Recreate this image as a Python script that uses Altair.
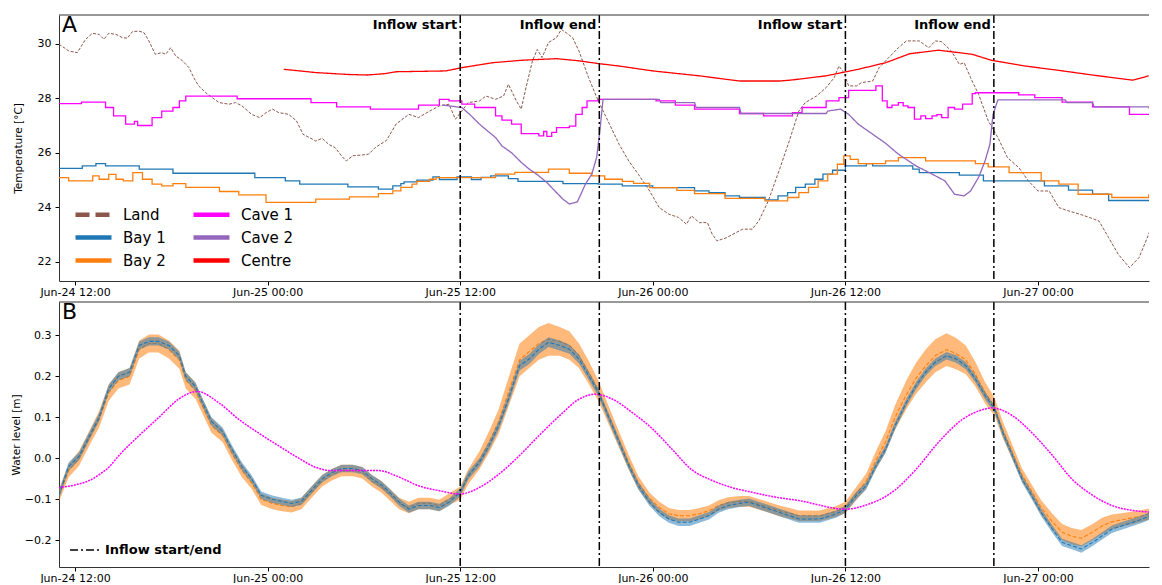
import altair as alt
import pandas as pd

# ---------------- time reference / ticks ----------------
BASE_TIME = "2021-06-24 11:00"
X_END = "2021-06-27 06:55"
TICK_TIMES = ["2021-06-24 12:00", "2021-06-25 00:00", "2021-06-25 12:00",
              "2021-06-26 00:00", "2021-06-26 12:00", "2021-06-27 00:00"]
INFLOW_TIMES = ["2021-06-25 12:00", "2021-06-25 20:40", "2021-06-26 12:00", "2021-06-26 21:15"]
INFLOW_LABELS = ["Inflow start", "Inflow end", "Inflow start", "Inflow end"]
INFLOW_KIND = "Inflow start/end"

TEMP_TICKS = [22, 24, 26, 28, 30]
LEVEL_TICKS = [-0.2, -0.1, 0.0, 0.1, 0.2, 0.3]

SERIES_ORDER = ["Land", "Bay 1", "Bay 2", "Cave 1", "Cave 2", "Centre"]
SERIES_COLORS = ["#8c564b", "#1f77b4", "#ff7f0e", "#ff00ff", "#9467bd", "#ff0000"]

# ---------------- Panel A: temperature (hours since BASE_TIME) ----------------
land_hours = [0, 0.62, 1.14, 1.66, 2.08, 2.5, 2.8, 3.1, 3.55, 3.95,
              4.26, 4.57, 4.98, 5.3, 5.6, 6.0, 6.4, 6.65, 6.96, 7.27,
              7.7, 8.1, 8.4, 8.7, 9.15, 9.55, 9.97, 10.6, 11.0, 11.4,
              12.0, 12.5, 12.9, 13.3, 13.7, 14.3, 14.8, 15.2, 15.6, 16.0,
              16.4, 16.8, 17.2, 17.6, 17.9, 18.3, 18.9, 19.3, 19.7, 20.4,
              21.0, 21.8, 22.4, 23.1, 23.7, 24.3, 24.7, 25.1, 25.5, 26.2,
              26.6, 27.2, 27.7, 28.0, 28.5, 28.8, 29.1, 29.5, 29.8, 30.1,
              30.5, 31.0, 31.3, 31.6, 32.0, 32.4, 33.0, 33.6, 34.3, 34.9,
              35.5, 36.1, 36.8, 37.4, 38.0, 38.6, 39.1, 39.4, 39.9, 40.4,
              40.7, 41.0, 41.6, 42.2, 42.6, 43.2, 43.6, 44.2, 44.9, 45.5,
              46.1, 46.5, 47.2, 47.8, 48.3, 48.6, 48.9, 49.2, 49.7, 50.0,
              50.7, 51.1, 51.7, 52.3, 52.8, 53.6, 54.2, 54.6, 55.0, 55.6,
              56.1, 56.4, 56.8, 57.3, 57.9, 58.5, 59.1, 59.8, 60.4, 61.0,
              61.7, 62.3, 62.9, 63.6, 64.2, 64.8, 65.4, 66.0, 66.7, 67.3,
              67.9, 68.5, 69.0]
land_temp = [29.98, 29.73, 29.67, 30.16, 30.38, 30.34, 30.16, 30.38, 30.34, 30.22,
             30.2, 30.44, 30.46, 30.4, 30.1, 29.61, 29.67, 29.61, 29.85, 29.55,
             29.37, 29.12, 28.75, 28.45, 28.2, 28.02, 27.84, 27.78, 27.84, 27.72,
             27.41, 27.29, 27.47, 27.6, 27.47, 27.41, 27.17, 26.68, 26.56, 26.43,
             26.53, 26.31, 26.19, 25.89, 25.7, 25.89, 25.92, 25.95, 26.19, 26.45,
             27.05, 27.41, 27.29, 27.53, 27.72, 27.78, 27.23, 27.53, 27.84, 27.9,
             28.08, 27.96, 28.08, 28.51, 27.9, 27.6, 28.39, 29.37, 29.79, 29.49,
             30.04, 30.22, 30.52, 30.4, 30.22, 29.73, 28.75, 27.9, 27.05, 26.31,
             25.7, 25.21, 24.6, 23.99, 23.75, 23.63, 23.38, 23.69, 23.44, 23.44,
             23.02, 22.77, 22.89, 23.08, 23.2, 23.2, 23.5, 24.24, 25.4, 26.43,
             27.53, 27.84, 28.08, 28.39, 28.75, 29.18, 28.94, 28.45, 28.45, 28.57,
             28.63, 29.12, 29.49, 29.85, 30.1, 30.1, 29.85, 30.1, 30.07, 29.73,
             29.24, 29.3, 28.75, 28.14, 27.17, 26.56, 25.82, 25.46, 24.97, 24.6,
             24.6, 23.99, 23.87, 23.75, 23.63, 23.5, 22.89, 22.28, 21.79, 22.16,
             23.02, 24.11, 24.9]

bay1_hours = [0, 1.45, 2.3, 2.9, 5.0, 7.1, 12.2, 14.1, 15.0, 18.0,
              19.9, 20.8, 21.3, 21.5, 22.3, 23.3, 23.7, 24.8, 25.7, 26.3,
              26.9, 28.0, 28.6, 31.4, 33.6, 35.1, 37.0, 39.6, 40.5, 41.5,
              42.4, 44.0, 44.8, 45.4, 45.9, 46.5, 47.1, 47.6, 48.2, 49.0,
              50.3, 50.7, 53.2, 53.6, 56.1, 57.6, 61.4, 62.9, 64.4, 65.4,
              68.0, 69.5]
bay1_temp = [25.43, 25.52, 25.6, 25.52, 25.4, 25.25, 25.09, 24.97, 24.85, 24.75,
             24.67, 24.79, 24.87, 24.93, 25.0, 25.12, 25.02, 25.12, 25.02, 25.1,
             25.15, 25.05, 24.95, 24.87, 24.85, 24.79, 24.72, 24.6, 24.54, 24.42,
             24.36, 24.27, 24.42, 24.54, 24.73, 24.85, 25.03, 25.22, 25.36, 25.52,
             25.6, 25.52, 25.4, 25.27, 25.18, 24.97, 24.79, 24.63, 24.48, 24.25,
             24.36, 24.36]

bay2_hours = [0, 0.6, 2.1, 2.5, 3.1, 3.55, 4.0, 4.6, 5.2, 5.8,
              6.4, 7.1, 7.9, 10.0, 11.2, 12.9, 16.0, 18.1, 19.9, 20.8,
              21.3, 22.0, 22.3, 23.1, 23.5, 27.2, 28.4, 30.5, 31.8, 33.2,
              34.0, 35.1, 35.8, 36.8, 38.5, 39.6, 41.5, 44.0, 45.4, 46.1,
              46.7, 47.3, 47.9, 48.5, 48.9, 49.3, 49.8, 51.5, 52.3, 54.0,
              57.1, 57.9, 59.2, 61.2, 62.3, 63.5, 65.6, 67.9, 69.5]
bay2_temp = [25.09, 24.97, 25.15, 25.03, 25.21, 25.03, 24.97, 25.27, 25.03, 24.85,
             24.79, 24.87, 24.73, 24.58, 24.46, 24.18, 24.3, 24.38, 24.5, 24.6,
             24.73, 24.85, 24.95, 25.03, 25.09, 25.22, 25.28, 25.4, 25.25, 25.15,
             25.03, 24.95, 24.88, 24.72, 24.62, 24.5, 24.33, 24.24, 24.36, 24.54,
             24.73, 24.97, 25.22, 25.58, 25.89, 25.76, 25.6, 25.7, 25.82, 25.7,
             25.6, 25.48, 25.27, 24.97, 24.85, 24.48, 24.36, 24.46, 24.46]

cave1_hours = [0, 1.4, 2.9, 3.4, 4.15, 4.7, 4.9, 5.8, 6.4, 7.1,
               7.5, 7.9, 11.1, 15.7, 17.3, 19.4, 22.4, 23.7, 24.3, 25.1,
               25.9, 27.2, 27.6, 28.2, 28.8, 29.9, 30.2, 30.4, 30.7, 31.0,
               31.8, 32.2, 32.6, 32.9, 33.6, 37.2, 38.4, 39.6, 42.4, 43.9,
               45.7, 46.3, 47.8, 48.6, 49.2, 50.9, 51.3, 51.6, 51.9, 52.3,
               52.6, 52.9, 53.3, 53.7, 54.0, 54.4, 54.7, 55.0, 55.4, 55.8,
               56.3, 56.9, 57.1, 59.8, 60.8, 62.5, 64.4, 66.7, 69.5]
cave1_temp = [27.8, 27.86, 27.66, 27.35, 27.05, 27.15, 27.0, 27.29, 27.53, 27.66,
              27.9, 28.08, 27.98, 27.84, 27.68, 27.6, 27.75, 27.96, 27.9, 27.78,
              27.66, 27.35, 27.2, 27.05, 26.7, 26.62, 26.78, 26.6, 26.75, 26.92,
              26.98, 27.41, 27.66, 27.9, 27.96, 27.9, 27.75, 27.6, 27.44, 27.35,
              27.47, 27.66, 27.9, 28.02, 28.29, 28.45, 27.9, 27.66, 27.75, 27.84,
              27.72, 27.66, 27.23, 27.35, 27.25, 27.35, 27.4, 27.29, 27.66, 27.6,
              27.78, 28.17, 28.2, 28.12, 28.02, 27.86, 27.68, 27.41, 27.41]

cave2_hours = [23.9, 25.1, 25.6, 26.2, 26.7, 27.2, 27.6, 28.2, 28.8, 29.3,
               29.8, 30.4, 30.9, 31.4, 31.8, 32.3, 32.8, 33.2, 33.5, 33.7,
               33.9, 37.4, 37.5, 39.6, 39.7, 42.4, 42.5, 47.8, 47.9, 48.7,
               49.2, 49.8, 50.7, 51.5, 52.3, 53.4, 54.4, 55.2, 55.8, 56.4,
               56.8, 57.3, 57.7, 58.0, 58.2, 58.5, 62.7, 62.8, 64.4, 64.5,
               67.9, 68.0, 69.5]
cave2_temp = [27.75, 27.66, 27.4, 27.05, 26.8, 26.56, 26.25, 26.0, 25.65, 25.4,
              25.2, 24.91, 24.6, 24.3, 24.12, 24.2, 24.85, 25.22, 25.83, 26.8,
              27.96, 27.96, 27.84, 27.84, 27.66, 27.66, 27.44, 27.44, 27.53, 27.6,
              27.41, 27.05, 26.68, 26.35, 25.95, 25.52, 25.22, 24.97, 24.48, 24.42,
              24.6, 25.1, 25.7, 26.3, 27.41, 27.94, 27.94, 27.84, 27.84, 27.68,
              27.68, 27.53, 27.53]

centre_hours = [14.0, 16.0, 18.0, 19.2, 20.3, 21.0, 24.1, 25.1, 27.0, 28.8,
                31.0, 32.4, 33.6, 34.9, 37.0, 39.9, 42.4, 44.9, 45.7, 47.8,
                49.8, 51.5, 53.0, 54.8, 56.9, 58.1, 60.2, 62.3, 64.4, 66.9,
                67.9]
centre_temp = [29.06, 28.94, 28.87, 28.85, 28.9, 28.97, 29.0, 29.12, 29.3, 29.39,
               29.45, 29.37, 29.27, 29.18, 29.0, 28.82, 28.63, 28.63, 28.67, 28.82,
               29.06, 29.3, 29.63, 29.76, 29.61, 29.39, 29.18, 29.02, 28.85, 28.66,
               28.82]

# ---------------- Panel B: water level ----------------
wl_hours = [0, 0.6, 1.25, 1.9, 2.5, 3.1, 3.7, 4.4, 5.0, 5.6,
            6.2, 6.85, 7.5, 7.9, 8.5, 8.9, 9.5, 10.2, 10.8, 11.4,
            12.0, 12.6, 13.3, 13.9, 14.5, 15.1, 15.8, 16.4, 17.0, 17.6,
            18.3, 18.9, 19.5, 20.1, 20.6, 21.2, 21.8, 22.4, 23.1, 23.7,
            24.3, 25.0, 25.5, 26.2, 26.8, 27.4, 28.0, 28.7, 29.3, 29.9,
            30.5, 31.2, 31.8, 32.4, 33.0, 33.6, 34.3, 34.9, 35.5, 36.1,
            36.8, 37.4, 38.0, 38.6, 39.3, 39.9, 40.5, 41.1, 41.7, 42.4,
            43.0, 43.6, 44.9, 46.1, 47.4, 48.4, 49.0, 49.7, 50.3, 50.9,
            51.5, 52.1, 52.8, 53.4, 54.0, 54.6, 55.3, 55.9, 56.5, 57.1,
            57.7, 58.3, 58.8, 59.4, 60.0, 60.6, 61.2, 61.9, 62.5, 63.1,
            63.7, 64.4, 65.0, 65.6, 66.2, 66.9, 67.5, 68.5, 69.2]
bay1_wl = [-0.09, -0.02, 0.005, 0.055, 0.1, 0.17, 0.2, 0.21, 0.275, 0.285,
           0.285, 0.275, 0.25, 0.2, 0.175, 0.14, 0.09, 0.065, 0.02, -0.02,
           -0.05, -0.09, -0.1, -0.105, -0.11, -0.105, -0.075, -0.05, -0.035, -0.025,
           -0.025, -0.03, -0.05, -0.065, -0.083, -0.107, -0.124, -0.115, -0.115, -0.12,
           -0.107, -0.083, -0.042, -0.01, 0.031, 0.08, 0.144, 0.226, 0.242, 0.266,
           0.283, 0.275, 0.266, 0.242, 0.202, 0.161, 0.095, 0.039, -0.018, -0.067,
           -0.107, -0.132, -0.148, -0.156, -0.156, -0.148, -0.14, -0.124, -0.115, -0.11,
           -0.107, -0.115, -0.132, -0.148, -0.148, -0.136, -0.124, -0.09, -0.067, -0.018,
           0.022, 0.08, 0.136, 0.177, 0.21, 0.234, 0.25, 0.242, 0.226, 0.194,
           0.153, 0.12, 0.063, 0.007, -0.05, -0.09, -0.132, -0.173, -0.205, -0.213,
           -0.221, -0.205, -0.189, -0.173, -0.165, -0.156, -0.148, -0.132, -0.125]
bay1_spread = [0.01, 0.01, 0.01, 0.01, 0.01, 0.01, 0.01, 0.01, 0.01, 0.01,
               0.01, 0.01, 0.01, 0.01, 0.01, 0.01, 0.01, 0.01, 0.01, 0.01,
               0.009, 0.009, 0.009, 0.009, 0.009, 0.009, 0.009, 0.009, 0.009, 0.009,
               0.009, 0.009, 0.009, 0.009, 0.009, 0.009, 0.009, 0.009, 0.009, 0.009,
               0.009, 0.01, 0.01, 0.01, 0.01, 0.011, 0.012, 0.012, 0.012, 0.012,
               0.012, 0.012, 0.011, 0.011, 0.01, 0.01, 0.01, 0.01, 0.009, 0.009,
               0.009, 0.009, 0.009, 0.009, 0.009, 0.009, 0.009, 0.009, 0.009, 0.009,
               0.009, 0.009, 0.009, 0.009, 0.009, 0.009, 0.009, 0.009, 0.009, 0.009,
               0.009, 0.009, 0.009, 0.009, 0.009, 0.009, 0.009, 0.009, 0.009, 0.009,
               0.009, 0.009, 0.009, 0.009, 0.009, 0.009, 0.009, 0.009, 0.009, 0.009,
               0.009, 0.009, 0.009, 0.009, 0.009, 0.009, 0.009, 0.009, 0.009]
bay2_wl = [-0.09, -0.03, 0.0, 0.05, 0.095, 0.16, 0.19, 0.2, 0.265, 0.28,
           0.28, 0.265, 0.24, 0.19, 0.165, 0.13, 0.08, 0.055, 0.01, -0.03,
           -0.06, -0.1, -0.11, -0.115, -0.118, -0.11, -0.08, -0.055, -0.04, -0.03,
           -0.03, -0.035, -0.055, -0.07, -0.088, -0.11, -0.12, -0.11, -0.11, -0.115,
           -0.1, -0.085, -0.045, -0.005, 0.04, 0.09, 0.16, 0.24, 0.26, 0.28,
           0.29, 0.285, 0.275, 0.25, 0.21, 0.165, 0.1, 0.045, -0.01, -0.06,
           -0.098, -0.12, -0.135, -0.14, -0.14, -0.135, -0.128, -0.115, -0.108, -0.105,
           -0.105, -0.112, -0.128, -0.14, -0.14, -0.13, -0.12, -0.085, -0.055, -0.005,
           0.04, 0.1, 0.155, 0.195, 0.225, 0.25, 0.265, 0.255, 0.24, 0.205,
           0.16, 0.125, 0.07, 0.015, -0.04, -0.08, -0.12, -0.155, -0.18, -0.19,
           -0.195, -0.18, -0.165, -0.155, -0.15, -0.145, -0.14, -0.13, -0.125]
bay2_spread = [0.016, 0.016, 0.018, 0.018, 0.02, 0.02, 0.02, 0.02, 0.022, 0.022,
               0.022, 0.022, 0.022, 0.02, 0.02, 0.018, 0.018, 0.016, 0.016, 0.016,
               0.014, 0.014, 0.014, 0.014, 0.014, 0.014, 0.014, 0.014, 0.014, 0.014,
               0.014, 0.014, 0.014, 0.014, 0.014, 0.014, 0.014, 0.014, 0.014, 0.014,
               0.014, 0.016, 0.018, 0.022, 0.026, 0.03, 0.035, 0.04, 0.04, 0.04,
               0.04, 0.035, 0.035, 0.03, 0.028, 0.025, 0.022, 0.02, 0.018, 0.016,
               0.014, 0.014, 0.014, 0.014, 0.014, 0.014, 0.013, 0.013, 0.013, 0.013,
               0.013, 0.013, 0.013, 0.013, 0.013, 0.013, 0.014, 0.016, 0.018, 0.022,
               0.026, 0.03, 0.035, 0.038, 0.04, 0.04, 0.04, 0.038, 0.035, 0.03,
               0.026, 0.022, 0.02, 0.018, 0.016, 0.016, 0.018, 0.02, 0.02, 0.02,
               0.02, 0.02, 0.02, 0.018, 0.016, 0.015, 0.014, 0.013, 0.013]

cave1_wl_hours = [0, 1.0, 1.9, 2.5, 3.1, 3.74, 4.98, 6.23, 7.48, 8.6,
                  9.97, 11.2, 12.5, 13.7, 14.95, 16.0, 17.0, 18.9, 19.9, 21.2,
                  22.4, 23.7, 25.0, 26.2, 27.4, 28.7, 29.9, 31.2, 32.4, 33.4,
                  34.5, 35.7, 37.0, 38.2, 39.4, 40.7, 41.9, 43.2, 44.7, 46.1,
                  49.0, 50.5, 51.9, 53.4, 54.8, 56.3, 57.7, 58.1, 59.4, 60.6,
                  61.9, 63.1, 64.4, 65.6, 66.9, 68.5, 69.2]
cave1_wl = [-0.071, -0.065, -0.054, -0.04, -0.022, 0.007, 0.055, 0.1, 0.145, 0.163,
            0.135, 0.095, 0.06, 0.03, 0.0, -0.022, -0.03, -0.03, -0.03, -0.046,
            -0.067, -0.079, -0.087, -0.071, -0.039, 0.007, 0.055, 0.104, 0.144, 0.156,
            0.144, 0.112, 0.071, 0.022, -0.027, -0.054, -0.071, -0.083, -0.095, -0.103,
            -0.124, -0.111, -0.083, -0.027, 0.039, 0.095, 0.12, 0.123, 0.104, 0.063,
            0.007, -0.05, -0.09, -0.115, -0.127, -0.132, -0.133]


# ---------------- helpers ----------------
def to_time(hours):
    s = pd.Series(hours, dtype="float64")
    return (pd.Timestamp(BASE_TIME) + pd.to_timedelta(s, unit="h")).dt.round("s")


def frame(name, hours, values):
    return pd.DataFrame({"time": to_time(hours), "value": values, "series": name})


def dt(s):
    t = pd.Timestamp(s)
    return alt.DateTime(year=t.year, month=t.month, date=t.day, hours=t.hour, minutes=t.minute)


land_df = frame("Land", land_hours, land_temp)
step_df = pd.concat([frame("Bay 1", bay1_hours, bay1_temp),
                     frame("Bay 2", bay2_hours, bay2_temp),
                     frame("Cave 1", cave1_hours, cave1_temp)], ignore_index=True)
lin_df = pd.concat([frame("Cave 2", cave2_hours, cave2_temp),
                    frame("Centre", centre_hours, centre_temp)], ignore_index=True)

inflow_df = pd.DataFrame({"time": pd.to_datetime(INFLOW_TIMES), "label": INFLOW_LABELS,
                          "kind": INFLOW_KIND})

wl_df = pd.DataFrame({"time": to_time(wl_hours), "bay1": bay1_wl, "bay2": bay2_wl,
                      "s1": bay1_spread, "s2": bay2_spread})
wl_df["bay1_lo"] = wl_df["bay1"] - wl_df["s1"]
wl_df["bay1_hi"] = wl_df["bay1"] + wl_df["s1"]
wl_df["bay2_lo"] = wl_df["bay2"] - wl_df["s2"]
wl_df["bay2_hi"] = wl_df["bay2"] + wl_df["s2"]
cave_wl_df = pd.DataFrame({"time": to_time(cave1_wl_hours), "value": cave1_wl})
frame_df = pd.DataFrame({"edge": ["top"]})

# ---------------- scales / axes ----------------
W = 1090
H_A = 266
H_B = 265
FONT = "DejaVu Sans"
FRAME = "#333333"

x_scale = alt.Scale(domain=[dt(BASE_TIME), dt(X_END)], nice=False)
x_axis = alt.Axis(values=[dt(s) for s in TICK_TIMES], format="%b-%d %H:%M", title=None,
                  labelAngle=0, labelPadding=1, tickSize=4, labelFlush=False)
X = alt.X("time:T", scale=x_scale, axis=x_axis)

y_scale_a = alt.Scale(domain=[21.3, 31.05], nice=False, zero=False)
y_axis_a = alt.Axis(values=TEMP_TICKS, title="Temperature [°C]", titlePadding=14, labelPadding=4)
y_scale_b = alt.Scale(domain=[-0.265, 0.381], nice=False, zero=False)
y_axis_b = alt.Axis(values=LEVEL_TICKS, format=".1f", title="Water level [m]",
                    titlePadding=3, labelPadding=4)

color_scale = alt.Scale(domain=SERIES_ORDER, range=SERIES_COLORS)
dash_scale = alt.Scale(domain=SERIES_ORDER, range=[[14, 6], [1, 0], [1, 0], [1, 0], [1, 0], [1, 0]])
# wide custom stroke symbol: 36 px long, laid out as an 18 px symbol
legend_a = alt.Legend(title=None, orient="none", legendX=23, legendY=188, columns=2,
                      symbolType="M-2,0H2", symbolSize=324, symbolStrokeWidth=4.5,
                      labelFontSize=15, labelOffset=18, columnPadding=18, rowPadding=2,
                      labelColor="black", labelFont=FONT, padding=0)
COLOR = alt.Color("series:N", scale=color_scale, legend=legend_a)
DASH = alt.StrokeDash("series:N", scale=dash_scale, legend=legend_a)


def top_border(width):
    return alt.Chart(frame_df).mark_rule(color=FRAME, strokeWidth=1).encode(
        x=alt.value(0), x2=alt.value(width), y=alt.value(0))


# ---------------- Panel A ----------------
land_layer = alt.Chart(land_df).mark_line(strokeWidth=1, strokeDash=[3, 1.6], clip=True).encode(
    x=X, y=alt.Y("value:Q", scale=y_scale_a, axis=y_axis_a), color=COLOR)
step_layer = alt.Chart(step_df).mark_line(interpolate="step-after", strokeWidth=1.3, clip=True).encode(
    x=X, y=alt.Y("value:Q", scale=y_scale_a, axis=y_axis_a), color=COLOR, strokeDash=DASH)
lin_layer = alt.Chart(lin_df).mark_line(strokeWidth=1.3, clip=True).encode(
    x=X, y=alt.Y("value:Q", scale=y_scale_a, axis=y_axis_a), color=COLOR, strokeDash=DASH)
rules_a = alt.Chart(inflow_df).mark_rule(color="black", strokeWidth=1.5,
                                         strokeDash=[8, 3, 2, 3]).encode(x=X)
texts_a = alt.Chart(inflow_df).mark_text(align="right", baseline="middle", dx=-3, fontSize=13,
                                         fontWeight="bold", font=FONT, color="black").encode(
    x=X, y=alt.value(10), text="label:N")
letter_a = alt.Chart(pd.DataFrame({"label": ["A"]})).mark_text(
    align="left", baseline="top", fontSize=22, font=FONT, color="black").encode(
    x=alt.value(3), y=alt.value(0), text="label:N")

panel_a = alt.layer(land_layer, step_layer, lin_layer, rules_a, texts_a, letter_a,
                    top_border(W)).properties(width=W, height=H_A)

# ---------------- Panel B ----------------
legend_b = alt.Legend(title=None, orient="bottom-left", offset=10, symbolType="stroke",
                      symbolSize=900, symbolStrokeWidth=1.5, symbolStrokeColor="black",
                      labelFontSize=13, labelFontWeight="bold", labelOffset=4,
                      labelColor="black", labelFont=FONT, padding=0)


def YB(f):
    return alt.Y(f, scale=y_scale_b, axis=y_axis_b)


orange_band = alt.Chart(wl_df).mark_area(color="#ff7f0e", opacity=0.55, clip=True).encode(
    x=X, y=YB("bay2_lo:Q"), y2="bay2_hi:Q")
orange_line = alt.Chart(wl_df).mark_line(color="#ff7f0e", strokeWidth=1.1, strokeDash=[4, 2],
                                         clip=True).encode(x=X, y=YB("bay2:Q"))
blue_band = alt.Chart(wl_df).mark_area(color="#1f77b4", opacity=0.5, clip=True).encode(
    x=X, y=YB("bay1_lo:Q"), y2="bay1_hi:Q")
blue_line = alt.Chart(wl_df).mark_line(color="#1f77b4", strokeWidth=1.1, strokeDash=[4, 2],
                                       clip=True).encode(x=X, y=YB("bay1:Q"))
cave_line = alt.Chart(cave_wl_df).mark_line(color="#ff00ff", strokeWidth=1.5, strokeDash=[2, 1],
                                            interpolate="monotone", clip=True).encode(
    x=X, y=YB("value:Q"))
rules_b = alt.Chart(inflow_df).mark_rule(color="black", strokeWidth=1.5).encode(
    x=X, strokeDash=alt.StrokeDash("kind:N", scale=alt.Scale(domain=[INFLOW_KIND],
                                                            range=[[8, 3, 2, 3]]),
                                   legend=legend_b))
letter_b = alt.Chart(pd.DataFrame({"label": ["B"]})).mark_text(
    align="left", baseline="top", fontSize=22, font=FONT, color="black").encode(
    x=alt.value(3), y=alt.value(0), text="label:N")

panel_b = alt.layer(orange_band, orange_line, blue_band, blue_line, cave_line, rules_b,
                    letter_b, top_border(W)).properties(width=W, height=H_B)

chart = (
    alt.vconcat(panel_a, panel_b, spacing=4)
    .resolve_scale(color="independent", strokeDash="independent")
    .resolve_legend(color="independent", strokeDash="independent")
    .properties(padding={"left": 3, "top": 6, "right": 0, "bottom": 0})
    .configure_view(stroke=None)
    .configure_axis(labelFont=FONT, titleFont=FONT, labelFontSize=11, titleFontSize=10.5,
                    titleFontWeight="normal", labelColor="black", titleColor="black",
                    tickColor="black", domain=True, domainColor=FRAME, domainWidth=1,
                    grid=False, tickSize=4)
    .configure_legend(labelFont=FONT)
)

chart.save("out.html", embed_options={"renderer": "svg", "actions": False})
